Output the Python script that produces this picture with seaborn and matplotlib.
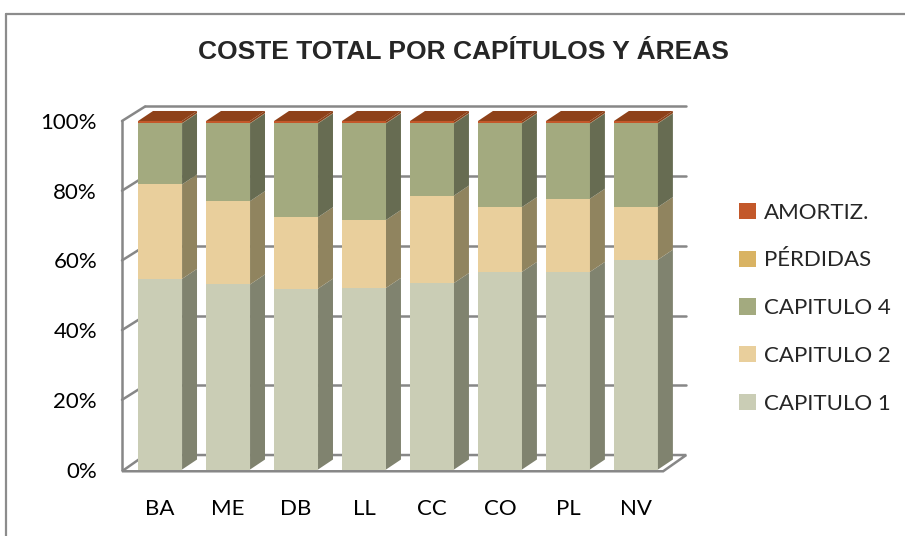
import numpy as np
import pandas as pd
import seaborn as sns
from matplotlib import pyplot as plt
from matplotlib.patches import Patch, Polygon
from matplotlib.lines import Line2D

areas = ['BA', 'ME', 'DB', 'LL', 'CC', 'CO', 'PL', 'NV']
series = ['CAPITULO 1', 'CAPITULO 2', 'CAPITULO 4', 'PÉRDIDAS', 'AMORTIZ.']
capitulo_1 = [54.7, 53.1, 51.9, 52.1, 53.5, 56.7, 56.7, 60.2]
capitulo_2 = [27.1, 23.9, 20.5, 19.5, 25.1, 18.6, 21.0, 15.1]
capitulo_4 = [17.5, 22.3, 26.9, 27.7, 20.7, 24.0, 21.6, 24.0]
perdidas = [0.1, 0.1, 0.1, 0.1, 0.1, 0.1, 0.1, 0.1]
amortiz = [0.6, 0.6, 0.6, 0.6, 0.6, 0.6, 0.6, 0.6]
y_ticks = [0, 20, 40, 60, 80, 100]

front_colors = ['#cacdb5', '#e9cf9c', '#a3aa7f', '#d9b363', '#c3582a']
side_colors = ['#80836f', '#90845f', '#676c52', '#8a7340', '#8a4118']

sns.set_theme(style='white')
plt.rcParams['font.family'] = ['Lato', 'DejaVu Sans']

df = pd.DataFrame({'area': areas, 'CAPITULO 1': capitulo_1, 'CAPITULO 2': capitulo_2,
                   'CAPITULO 4': capitulo_4, 'PÉRDIDAS': perdidas, 'AMORTIZ.': amortiz})
df[series] = df[series].div(df[series].sum(axis=1), axis=0) * 100
cum = df[series].cumsum(axis=1)

fig = plt.figure(figsize=(9.05, 5.36), dpi=100)
ax = fig.add_axes([0.1318, 0.1045, 0.631, 0.7218])

bar_w = 0.647
# depth offsets for the fake 3D look
bdx, bdy = 0.22, 2.87
wdx, wdy = 0.34, 4.16
xl, xr = -0.56, 7.40
grey = '#878787'

# back wall, left wall, floor
for g in y_ticks[1:]:
    ax.plot([xl + wdx, xr + wdx], [g + wdy, g + wdy], color=grey, lw=1.8, zorder=0.5)
    ax.plot([xl, xl + wdx], [g, g + wdy], color=grey, lw=1.8, zorder=0.5)
ax.plot([xl, xl], [0, 100], color=grey, lw=1.8, zorder=0.5)
floor = Polygon([(xl, -0.5), (xr, -0.5), (xr + wdx, wdy), (xl + wdx, wdy)],
                closed=True, facecolor='white', edgecolor=grey, lw=1.8, zorder=0.6)
ax.add_patch(floor)

# front faces: cumulative bars drawn from top to bottom
for i in range(len(series) - 1, -1, -1):
    sns.barplot(x=df['area'], y=cum[series[i]], color=front_colors[i], saturation=1,
                width=bar_w, edgecolor='none', linewidth=0, ax=ax, zorder=2)

# side and top faces
for j in range(len(areas)):
    right = j + bar_w / 2
    left = j - bar_w / 2
    base = 0
    for i, s in enumerate(series):
        top = cum.loc[j, s]
        side = Polygon([(right, base), (right + bdx, base + bdy),
                        (right + bdx, top + bdy), (right, top)],
                       closed=True, facecolor=side_colors[i], edgecolor='none', zorder=2)
        ax.add_patch(side)
        base = top
    lid = Polygon([(left, base), (right, base), (right + bdx, base + bdy), (left + bdx, base + bdy)],
                  closed=True, facecolor='#8e4119', edgecolor='none', zorder=2.1)
    ax.add_patch(lid)

ax.set_xlim(-0.6, 7.8)
ax.set_ylim(-3, 108)
ax.set_yticks(y_ticks)
ax.set_yticklabels([f'{t}%' for t in y_ticks])
ax.set_xticks(range(len(areas)))
ax.set_xticklabels(areas)
ax.set_xlabel('')
ax.set_ylabel('')
ax.tick_params(axis='both', length=0, labelsize=16, colors='black')
ax.tick_params(axis='y', pad=16)
ax.tick_params(axis='x', pad=14)
for sp in ax.spines.values():
    sp.set_visible(False)
ax.patch.set_alpha(0)

fig.text(0.512, 0.903, 'COSTE TOTAL POR CAPÍTULOS Y ÁREAS', ha='center', va='center',
         fontsize=19, fontweight='bold', family=['Liberation Sans', 'DejaVu Sans'])

handles = [Patch(facecolor=front_colors[i], edgecolor='none', label=series[i])
           for i in range(len(series) - 1, -1, -1)]
fig.legend(handles=handles, loc='center left', bbox_to_anchor=(0.795, 0.425), frameon=False,
           fontsize=16, handlelength=0.75, handleheight=0.75, handletextpad=0.35,
           labelspacing=1.25)

# chart area border (top and left visible)
fig.add_artist(Line2D([0.0066, 1.0], [0.974, 0.974], color='#8c8c8c', lw=1.6,
                      transform=fig.transFigure))
fig.add_artist(Line2D([0.0066, 0.0066], [0.0, 0.974], color='#8c8c8c', lw=1.6,
                      transform=fig.transFigure))

plt.savefig('out.png', dpi=100)
plt.close()
